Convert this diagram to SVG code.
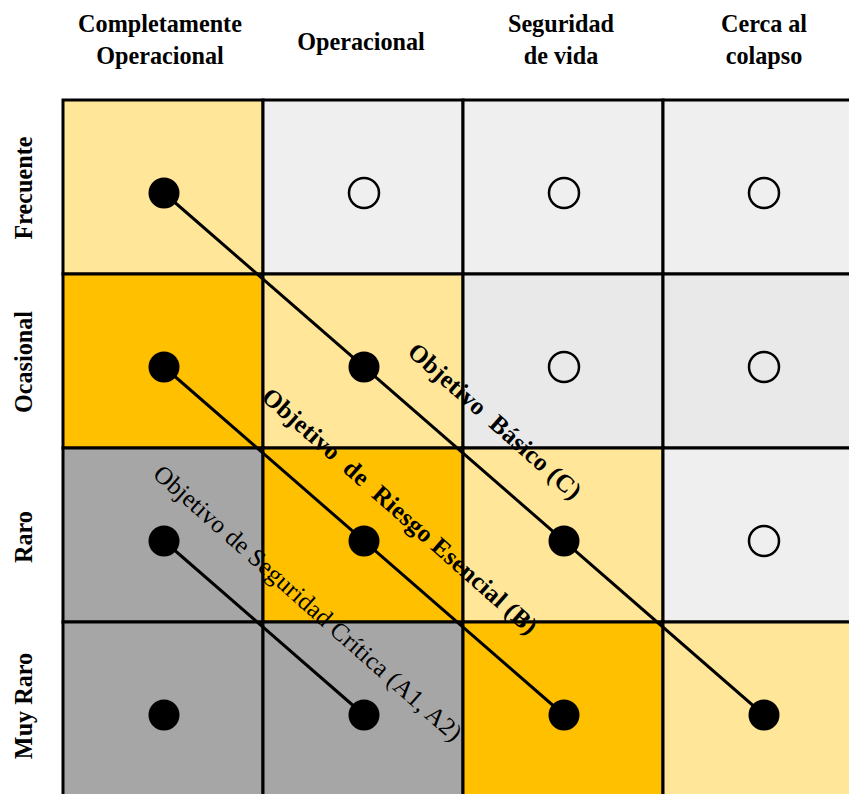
<svg xmlns="http://www.w3.org/2000/svg" width="849" height="794" viewBox="0 0 849 794">
<style>
.hd{font-family:"Liberation Serif","Times New Roman",serif;font-weight:bold;font-size:26px;fill:#000;text-anchor:middle}
.cell{stroke:#000;stroke-width:3}
.y1{fill:#FFE699}.y2{fill:#FFC000}.g1{fill:#EFEFEF}.g2{fill:#E9E9E9}.g3{fill:#A6A6A6}
.full{fill:#000}
.empty{fill:none;stroke:#000;stroke-width:2.5}
.conn{stroke:#000;stroke-width:3;fill:none}
.lab{font-family:"Liberation Serif","Times New Roman",serif;font-size:25px;fill:#000;text-anchor:middle}
</style>
<rect width="849" height="794" fill="#fff"/>
<g id="headers">
<text class="hd" transform="translate(160,32) scale(0.93,1)">Completamente</text>
<text class="hd" transform="translate(160,64) scale(0.93,1)">Operacional</text>
<text class="hd" transform="translate(361,50) scale(0.93,1)">Operacional</text>
<text class="hd" transform="translate(561,32) scale(0.93,1)">Seguridad</text>
<text class="hd" transform="translate(561,64) scale(0.93,1)">de vida</text>
<text class="hd" transform="translate(764,32) scale(0.93,1)">Cerca al</text>
<text class="hd" transform="translate(764,64) scale(0.93,1)">colapso</text>
</g>
<g id="rowlabels">
<text class="hd" transform="translate(32,188) rotate(-90) scale(0.93,1)">Frecuente</text>
<text class="hd" transform="translate(32,362) rotate(-90) scale(0.93,1)">Ocasional</text>
<text class="hd" transform="translate(32,537) rotate(-90) scale(0.93,1)">Raro</text>
<text class="hd" transform="translate(32,706) rotate(-90) scale(0.93,1)">Muy Raro</text>
</g>
<g id="grid">
<rect class="cell y1" x="63" y="100" width="200" height="174"/>
<rect class="cell g1" x="263" y="100" width="200" height="174"/>
<rect class="cell g1" x="463" y="100" width="200" height="174"/>
<rect class="cell g1" x="663" y="100" width="200" height="174"/>
<rect class="cell y2" x="63" y="274" width="200" height="174"/>
<rect class="cell y1" x="263" y="274" width="200" height="174"/>
<rect class="cell g2" x="463" y="274" width="200" height="174"/>
<rect class="cell g2" x="663" y="274" width="200" height="174"/>
<rect class="cell g3" x="63" y="448" width="200" height="174"/>
<rect class="cell y2" x="263" y="448" width="200" height="174"/>
<rect class="cell y1" x="463" y="448" width="200" height="174"/>
<rect class="cell g1" x="663" y="448" width="200" height="174"/>
<rect class="cell g3" x="63" y="622" width="200" height="174"/>
<rect class="cell g3" x="263" y="622" width="200" height="174"/>
<rect class="cell y2" x="463" y="622" width="200" height="174"/>
<rect class="cell y1" x="663" y="622" width="200" height="174"/>
</g>
<g id="connectors">
<line class="conn" x1="164" y1="193" x2="764" y2="715"/>
<line class="conn" x1="164" y1="367" x2="564" y2="715"/>
<line class="conn" x1="164" y1="541" x2="364" y2="715"/>
</g>
<g id="points">
<circle class="full" cx="164" cy="193" r="15.5"/>
<circle class="empty" cx="364" cy="193" r="15"/>
<circle class="empty" cx="564" cy="193" r="15"/>
<circle class="empty" cx="764" cy="193" r="15"/>
<circle class="full" cx="164" cy="367" r="15.5"/>
<circle class="full" cx="364" cy="367" r="15.5"/>
<circle class="empty" cx="564" cy="367" r="15"/>
<circle class="empty" cx="764" cy="367" r="15"/>
<circle class="full" cx="164" cy="541" r="15.5"/>
<circle class="full" cx="364" cy="541" r="15.5"/>
<circle class="full" cx="564" cy="541" r="15.5"/>
<circle class="empty" cx="764" cy="541" r="15"/>
<circle class="full" cx="164" cy="715" r="15.5"/>
<circle class="full" cx="364" cy="715" r="15.5"/>
<circle class="full" cx="564" cy="715" r="15.5"/>
<circle class="full" cx="764" cy="715" r="15.5"/>
</g>
<g id="labels">
<text class="lab" font-weight="bold" transform="translate(494,422) rotate(41.5)" y="7" textLength="222" lengthAdjust="spacing" xml:space="preserve">Objetivo  Básico (C)</text>
<text class="lab" font-weight="bold" transform="translate(399,512) rotate(41.5)" y="7" textLength="358" lengthAdjust="spacing" xml:space="preserve">Objetivo  de  Riesgo Esencial (B)</text>
<text class="lab" transform="translate(307,604) rotate(41.5)" y="7" textLength="402" lengthAdjust="spacing">Objetivo de Seguridad Crítica (A1, A2)</text>
</g>
</svg>
